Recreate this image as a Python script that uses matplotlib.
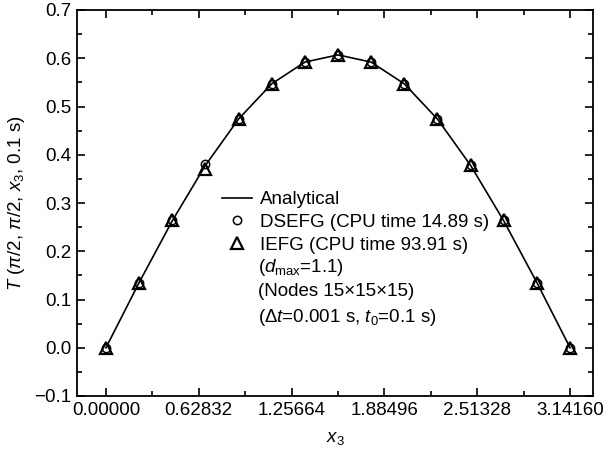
import matplotlib
matplotlib.use("Agg")
import matplotlib.pyplot as plt
from matplotlib.ticker import MultipleLocator, FixedLocator

x3 = [0.0, 0.2244, 0.4488, 0.6732, 0.8976, 1.1220, 1.3464, 1.5708,
      1.7952, 2.0196, 2.2440, 2.4684, 2.6928, 2.9172, 3.1416]
analytical = [0.000, 0.135, 0.263, 0.378, 0.474, 0.547, 0.592, 0.607,
              0.592, 0.547, 0.474, 0.378, 0.263, 0.135, 0.000]
dsefg = [0.000, 0.135, 0.264, 0.380, 0.475, 0.547, 0.592, 0.607,
         0.592, 0.547, 0.475, 0.378, 0.264, 0.135, 0.000]
iefg = [0.000, 0.135, 0.264, 0.370, 0.475, 0.547, 0.592, 0.607,
        0.592, 0.547, 0.475, 0.378, 0.264, 0.135, 0.000]
xticks = [0.0, 0.62832, 1.25664, 1.88496, 2.51328, 3.14160]
xticklabels = ["0.00000", "0.62832", "1.25664", "1.88496", "2.51328", "3.14160"]
yticks = [-0.1, 0.0, 0.1, 0.2, 0.3, 0.4, 0.5, 0.6, 0.7]
yticklabels = ["\u22120.1", "0.0", "0.1", "0.2", "0.3", "0.4", "0.5", "0.6", "0.7"]

fs = 13.5
plt.rcParams["font.family"] = ["Liberation Sans", "DejaVu Sans"]
plt.rcParams["mathtext.fontset"] = "custom"
plt.rcParams["mathtext.rm"] = "Liberation Sans"
plt.rcParams["mathtext.it"] = "Liberation Sans:italic"
plt.rcParams["font.size"] = fs

fig = plt.figure(figsize=(6.13, 4.51), dpi=100)
ax = fig.add_axes([77 / 613, 1 - 396 / 451, (593 - 77) / 613, (396 - 10) / 451])

ax.plot(x3, analytical, color="black", lw=1.2, label="Analytical")
ax.plot(x3, dsefg, ls="none", marker="o", ms=6, mfc="none", mec="black",
        mew=1.1, label="DSEFG (CPU time 14.89 s)")
ax.plot(x3, iefg, ls="none", marker="^", ms=8, mfc="none", mec="black",
        mew=1.6, label="IEFG (CPU time 93.91 s)")

ax.set_xlim(-0.196, 3.297)
ax.set_ylim(-0.1, 0.7)
ax.xaxis.set_major_locator(FixedLocator(xticks))
ax.set_xticklabels(xticklabels)
ax.xaxis.set_minor_locator(MultipleLocator(0.31416))
ax.set_yticks(yticks)
ax.set_yticklabels(yticklabels)
ax.yaxis.set_minor_locator(MultipleLocator(0.05))
ax.tick_params(which="both", direction="in", top=True, right=True, width=1.2)
ax.tick_params(which="major", length=6, labelsize=fs, pad=4)
ax.tick_params(which="minor", length=3.5)
for s in ax.spines.values():
    s.set_linewidth(1.3)

ax.set_xlabel("$x_3$", fontsize=fs, labelpad=8)
ax.set_ylabel(r"$T$ ($\pi$/2, $\pi$/2, $x_3$, 0.1 s)", fontsize=fs, labelpad=5)

leg = ax.legend(loc="upper left", bbox_to_anchor=(222 / 613, 1 - 191 / 451),
                bbox_transform=fig.transFigure, frameon=False, fontsize=fs,
                handlelength=1.6, handletextpad=0.4, labelspacing=0.3,
                borderpad=0, borderaxespad=0)

ax.text(258, 451 - 267, r"($d_{\rm max}$=1.1)", transform=None, fontsize=fs,
        va="center", ha="left")
ax.text(258, 451 - 292, "(Nodes 15\u00d715\u00d715)", transform=None, fontsize=fs,
        va="center", ha="left")
ax.text(258, 451 - 317, r"($\Delta t$=0.001 s, $t_0$=0.1 s)", transform=None,
        fontsize=fs, va="center", ha="left")

fig.savefig("out.png", dpi=100)
